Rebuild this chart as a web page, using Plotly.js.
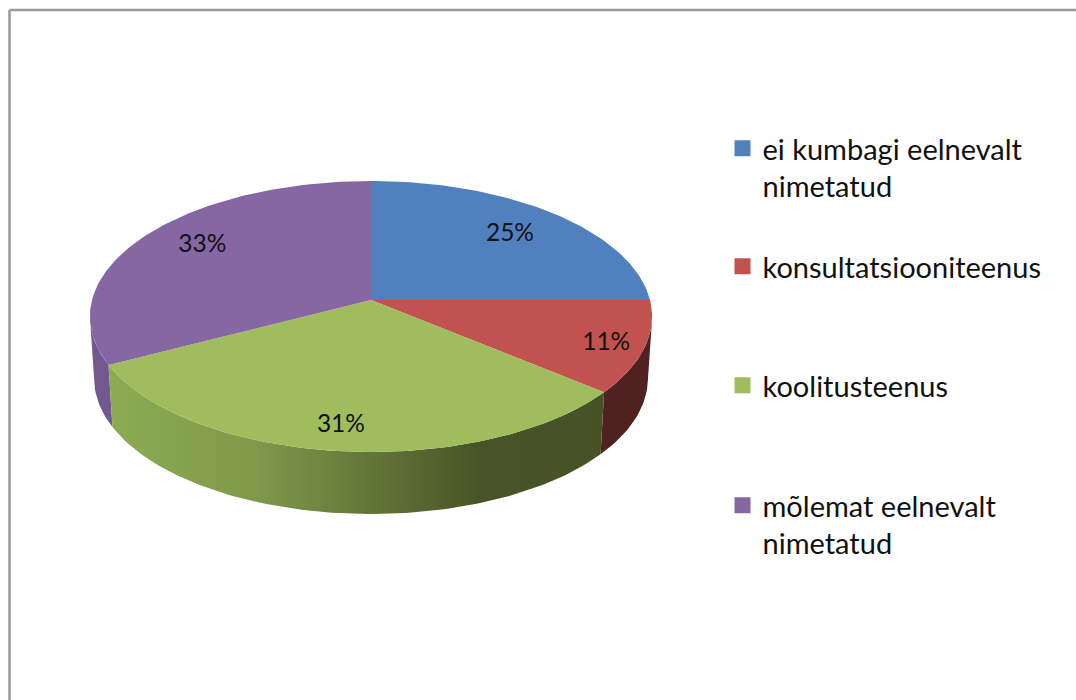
<!DOCTYPE html>
<html>
<head>
<meta charset="utf-8">
<script src="https://cdn.plot.ly/plotly-3.0.1.min.js"></script>
<style>html,body{margin:0;padding:0;background:#fff}</style>
</head>
<body>
<div id="chart" style="width:1076px;height:700px"></div>
<script>
// Data
const categories = ["ei kumbagi eelnevalt<br>nimetatud", "konsultatsiooniteenus", "koolitusteenus", "mõlemat eelnevalt<br>nimetatud"];
const values = [25, 11, 31.4, 32.6];
const labels = ["25%", "11%", "31%", "33%"];

// Styles
const topColors = ["#5081be", "#c2524f", "#9fbd5d", "#8667a4"];
const wallColors = ["#3a5f8c", "#4f2120", "#475126", "#71588f"];
const greenWallScale = [[0, "#8cab52"], [0.3, "#7f994a"], [0.5, "#667a3b"], [0.75, "#485427"], [1, "#475126"]];
const labelRadius = [0.75, 0.85, 0.82, 0.75];
const labelNudgeX = [0, 4, -3, 2];
const labelNudgeY = [1, 4, 5, -4];
const legendTops = [123, 241, 360, 480];

// Projection of the tilted disc on to the page (pixel axes)
const cx = 371, cy = 300, ax = 279, by = 133.5, k = 0.1218, depth = 62, shrink = 0.985;
function project(frac, r) {
  const th = Math.PI / 2 - frac * 2 * Math.PI;
  const X = r * Math.cos(th), Y = r * Math.sin(th), w = 1 + k * Y;
  return {x: ax * X / w, y: -by * Y / w, Y: Y};
}
const total = values.reduce((a, b) => a + b, 0);
let acc = 0;
const spans = values.map(v => { const s = [acc / total, (acc + v) / total]; acc += v; return s; });

const traces = [];
const STEPS = 160;
function arc(s) {
  const pts = [];
  const n = Math.max(8, Math.round(STEPS * (s[1] - s[0]) * 2));
  for (let i = 0; i <= n; i++) pts.push(project(s[0] + (s[1] - s[0]) * i / n, 1));
  return pts;
}
// Walls, back to front
[3, 1, 2].forEach(i => {
  const front = arc(spans[i]).filter(p => p.Y < -k);
  if (front.length < 2) return;
  const xs = front.map(p => cx + p.x).concat(front.slice().reverse().map(p => cx + p.x * shrink));
  const ys = front.map(p => cy + p.y).concat(front.slice().reverse().map(p => cy + p.y + depth));
  xs.push(xs[0]); ys.push(ys[0]);
  const t = {type: "scatter", mode: "lines", x: xs, y: ys, fill: "toself", line: {width: 0},
    fillcolor: wallColors[i], showlegend: false, hoverinfo: "skip"};
  if (i === 2) t.fillgradient = {type: "horizontal", colorscale: greenWallScale, start: Math.min(...xs), stop: Math.max(...xs)};
  traces.push(t);
});
// Top faces
spans.forEach((s, i) => {
  const a = arc(s);
  const xs = [cx].concat(a.map(p => cx + p.x), [cx]);
  const ys = [cy].concat(a.map(p => cy + p.y), [cy]);
  traces.push({type: "scatter", mode: "lines", x: xs, y: ys, fill: "toself", line: {width: 0},
    fillcolor: topColors[i], showlegend: false, hoverinfo: "skip"});
});
// Value labels
traces.push({type: "scatter", mode: "text", showlegend: false, hoverinfo: "skip",
  x: spans.map((s, i) => cx + project((s[0] + s[1]) / 2, labelRadius[i]).x + labelNudgeX[i]),
  y: spans.map((s, i) => cy + project((s[0] + s[1]) / 2, labelRadius[i]).y + labelNudgeY[i]),
  text: labels, textposition: "middle center",
  textfont: {family: "Lato, Carlito, sans-serif", size: 24.5, color: "#111"}});
// Legend entries
categories.forEach((c, i) => {
  traces.push({type: "scatter", mode: "markers", x: [null], y: [null], name: c,
    legend: i === 0 ? "legend" : "legend" + (i + 1),
    marker: {symbol: "square", size: 16, color: topColors[i]}});
});

const layout = {
  width: 1076, height: 700, margin: {l: 0, r: 0, t: 0, b: 0},
  paper_bgcolor: "#fff", plot_bgcolor: "#fff", showlegend: true,
  xaxis: {range: [0, 1076], visible: false, fixedrange: true},
  yaxis: {range: [700, 0], visible: false, fixedrange: true},
  shapes: [
    {type: "line", xref: "paper", yref: "paper", x0: 9.5 / 1076, x1: 1, y0: 1 - 10 / 700, y1: 1 - 10 / 700, line: {color: "#999", width: 2.5}},
    {type: "line", xref: "paper", yref: "paper", x0: 9.5 / 1076, x1: 9.5 / 1076, y0: 1 - 10 / 700, y1: 0, line: {color: "#999", width: 2.5}}
  ]
};
legendTops.forEach((top, i) => {
  layout[i === 0 ? "legend" : "legend" + (i + 1)] = {
    x: 722.5 / 1076, xanchor: "left", y: 1 - top / 700, yanchor: "top",
    bgcolor: "rgba(0,0,0,0)", borderwidth: 0, itemwidth: 30, valign: "top",
    font: {family: "Lato, Carlito, sans-serif", size: 29, color: "#111"}
  };
});
Plotly.newPlot("chart", traces, layout, {displayModeBar: false, responsive: false, staticPlot: true});
</script>
</body>
</html>
